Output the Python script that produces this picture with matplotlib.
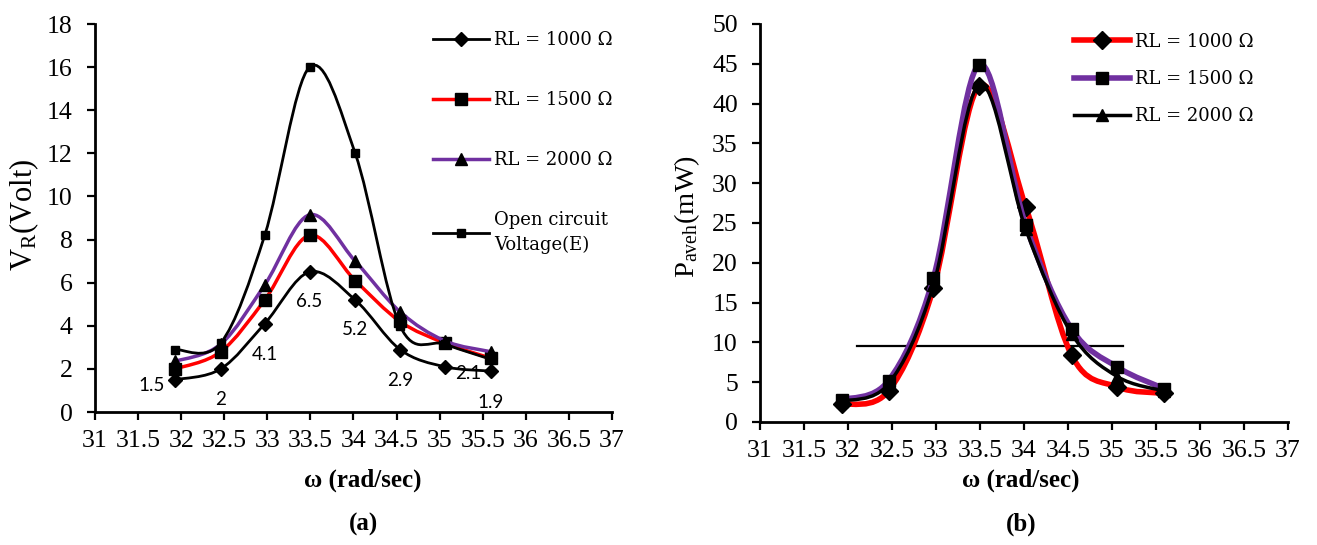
import numpy as np
import matplotlib
matplotlib.use("Agg")
import matplotlib.pyplot as plt
from matplotlib.path import Path
from matplotlib.patches import PathPatch
from matplotlib.lines import Line2D
from matplotlib.ticker import FuncFormatter, MultipleLocator

# angular frequency of the measurement points (rad/sec)
omega = [31.93, 32.46, 32.97, 33.49, 34.02, 34.54, 35.06, 35.59]

# (a) load voltage V_R (Volt)
v_rl1000 = [1.5, 2.0, 4.1, 6.5, 5.2, 2.9, 2.1, 1.9]
v_rl1500 = [2.0, 2.8, 5.2, 8.2, 6.1, 4.2, 3.2, 2.5]
v_rl2000 = [2.35, 3.15, 5.9, 9.15, 7.0, 4.65, 3.3, 2.8]
v_open = [2.9, 3.2, 8.2, 16.0, 12.0, 4.0, 3.15, 2.45]

# (b) average harvested power P_aveh (mW)
p_rl1000 = [2.2, 3.9, 16.8, 42.2, 27.0, 8.4, 4.4, 3.6]
p_rl1500 = [2.8, 5.2, 18.1, 44.9, 24.7, 11.7, 6.9, 4.2]
p_rl2000 = [2.6, 4.8, 17.2, 42.4, 24.2, 11.1, 5.7, 3.9]

# horizontal reference line drawn in (b)
hline_x = [32.1, 35.13]
hline_y = 9.6

RED = "#FF0000"
PURPLE = "#7030A0"
TICK_FONT = "Liberation Serif"
LEG_FONT = "DejaVu Serif"
LABEL_FONT = "Lato"


def smooth_path(x, y):
    # excel-like smoothed line: cubic bezier through every point
    pts = np.column_stack([x, y])
    n = len(pts)
    verts = [pts[0]]
    codes = [Path.MOVETO]
    for i in range(n - 1):
        p0 = pts[i - 1] if i > 0 else pts[i]
        p1, p2 = pts[i], pts[i + 1]
        p3 = pts[i + 2] if i + 2 < n else pts[i + 1]
        verts += [p1 + (p2 - p0) / 6, p2 - (p3 - p1) / 6, p2]
        codes += [Path.CURVE4] * 3
    return Path(verts, codes)


def series(ax, x, y, color, lw, marker, ms, z):
    ax.add_patch(PathPatch(smooth_path(x, y), fill=False, edgecolor=color,
                           lw=lw, zorder=z, capstyle="round"))
    ax.plot(x, y, ls="none", marker=marker, ms=ms, color="black", zorder=z + 0.5)
    return Line2D([], [], color=color, lw=lw, marker=marker, ms=ms,
                  markerfacecolor="black", markeredgecolor="black")


def style_axes(ax, ymax, ystep):
    ax.set_xlim(31, 37)
    ax.set_ylim(0, ymax)
    ax.xaxis.set_major_locator(MultipleLocator(0.5))
    ax.yaxis.set_major_locator(MultipleLocator(ystep))
    ax.xaxis.set_major_formatter(FuncFormatter(lambda v, _: f"{v:g}"))
    for s in ["top", "right"]:
        ax.spines[s].set_visible(False)
    for s in ["left", "bottom"]:
        ax.spines[s].set_linewidth(2.0)
    ax.tick_params(axis="both", direction="out", length=6, width=1.6,
                   labelsize=18.5, labelfontfamily=TICK_FONT)
    ax.tick_params(axis="x", pad=7)
    ax.tick_params(axis="y", pad=10)


fig = plt.figure(figsize=(13.17, 5.45), dpi=100)
ax1 = fig.add_axes([0.0721, 0.2440, 0.3926, 0.7119])
ax2 = fig.add_axes([0.5771, 0.2257, 0.4009, 0.7303])

# ---- (a) ----
h1 = series(ax1, omega, v_rl1000, "black", 2.0, "D", 7, 3)
h2 = series(ax1, omega, v_rl1500, RED, 2.5, "s", 9, 4)
h3 = series(ax1, omega, v_rl2000, PURPLE, 2.5, "^", 8, 5)
h4 = series(ax1, omega, v_open, "black", 2.0, "s", 6, 6)
style_axes(ax1, 18, 2)

label_offsets = [(-23, -6), (0, -31), (0, -31), (0, -30), (0, -30),
                 (0, -31), (23, -7), (0, -31)]
for xv, yv, off in zip(omega, v_rl1000, label_offsets):
    ax1.annotate(f"{yv:g}", (xv, yv), xytext=off, textcoords="offset pixels",
                 ha="center", va="center", fontfamily=LABEL_FONT, fontsize=13.5,
                 zorder=10)

leg1 = ax1.legend([h1, h2, h3, h4],
                  ["RL = 1000 Ω", "RL = 1500 Ω", "RL = 2000 Ω",
                   "Open circuit\nVoltage(E)"],
                  loc="upper left", bbox_to_anchor=(0.3288, 0.943),
                  bbox_transform=fig.transFigure, frameon=False,
                  borderpad=0, borderaxespad=0, handlelength=3.1,
                  handletextpad=0.3, labelspacing=2.32,
                  prop={"family": LEG_FONT, "size": 13})
for t in leg1.get_texts():
    t.set_linespacing(1.5)

# ---- (b) ----
g1 = series(ax2, omega, p_rl1000, RED, 4.0, "D", 9, 3)
g2 = series(ax2, omega, p_rl1500, PURPLE, 4.0, "s", 9, 4)
g3 = series(ax2, omega, p_rl2000, "black", 2.5, "^", 8, 5)
ax2.plot(hline_x, [hline_y, hline_y], color="black", lw=1.6, zorder=2)
style_axes(ax2, 50, 5)

ax2.legend([g1, g2, g3], ["RL = 1000 Ω", "RL = 1500 Ω", "RL = 2000 Ω"],
           loc="upper left", bbox_to_anchor=(0.8155, 0.94),
           bbox_transform=fig.transFigure, frameon=False,
           borderpad=0, borderaxespad=0, handlelength=3.1,
           handletextpad=0.3, labelspacing=1.07,
           prop={"family": LEG_FONT, "size": 13})

# axis titles and panel letters
fig.text(24 / 1317, 1 - 215 / 545, r"$\mathregular{V_R}$(Volt)", rotation=90,
         ha="center", va="center", fontfamily=TICK_FONT, fontsize=22)
fig.text(687 / 1317, 1 - 216 / 545, r"$\mathregular{P_{aveh}}$(mW)", rotation=90,
         ha="center", va="center", fontfamily=TICK_FONT, fontsize=20.5)
for xc, letter in [(363, "(a)"), (1021, "(b)")]:
    fig.text(xc / 1317, 1 - 480 / 545, "ω (rad/sec)", ha="center", va="center",
             fontfamily=TICK_FONT, fontweight="bold", fontsize=18)
    fig.text(xc / 1317, 1 - 524 / 545, letter, ha="center", va="center",
             fontfamily=TICK_FONT, fontweight="bold", fontsize=18)

fig.savefig("out.png", dpi=100)
